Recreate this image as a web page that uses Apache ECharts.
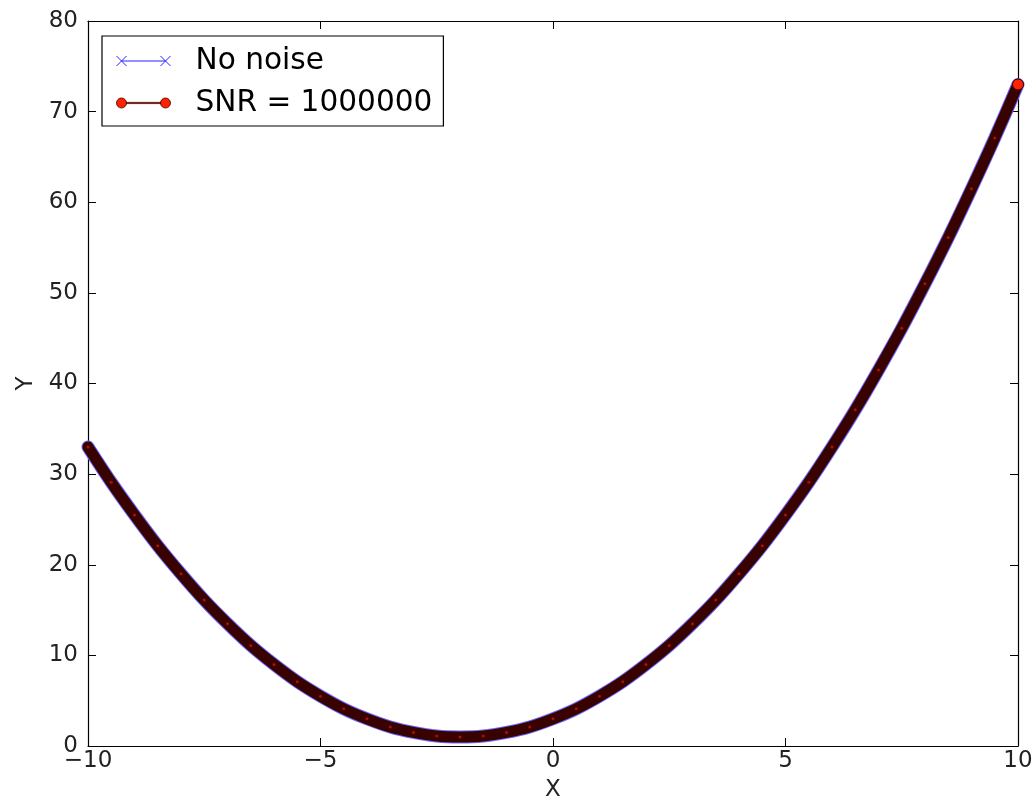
<!DOCTYPE html>
<html>
<head>
<meta charset="utf-8">
<script src="https://cdn.jsdelivr.net/npm/echarts@6/dist/echarts.min.js"></script>
<style>
	html, body { margin: 0; padding: 0; background: #fff; }
	#myChart { width: 1036px; height: 801px; }
</style>
</head>
<body>
<div id="myChart"></div>
<script>
// x positions of the plotted samples
const xValues = [
	-10, -9.5, -9, -8.5, -8, -7.5, -7, -6.5, -6, -5.5, -5, -4.5, -4, -3.5, -3, -2.5, -2,
	-1.5, -1, -0.5, 0, 0.5, 1, 1.5, 2, 2.5, 3, 3.5, 4, 4.5, 5, 5.5, 6, 6.5, 7, 7.5, 8,
	8.5, 9, 9.5, 10,
];
// "No noise" curve
const yNoNoise = [
	33, 29.1, 25.5, 22.1, 19, 16.1, 13.5, 11.1, 9, 7.1, 5.5, 4.1, 3, 2.1, 1.5, 1.1, 1,
	1.1, 1.5, 2.1, 3, 4.1, 5.5, 7.1, 9, 11.1, 13.5, 16.1, 19, 22.1, 25.5, 29.1, 33, 37.1, 41.5, 46.1, 51,
	56.1, 61.5, 67.1, 73,
];
// "SNR = 1000000" curve (noise too small to see)
const ySnr = [
	33, 29.1, 25.5, 22.1, 19, 16.1, 13.5, 11.1, 9, 7.1, 5.5, 4.1, 3, 2.1, 1.5, 1.1, 1,
	1.1, 1.5, 2.1, 3, 4.1, 5.5, 7.1, 9, 11.1, 13.5, 16.1, 19, 22.1, 25.5, 29.1, 33, 37.1, 41.5, 46.1, 51,
	56.1, 61.5, 67.1, 73,
];
const seriesNames = ["No noise", "SNR = 1000000"];

const font = "DejaVu Sans";
const minus = (v) => String(v).replace("-", "\u2212");

const cleanData = xValues.map((x, i) => [x, yNoNoise[i]]);
const snrData = xValues.map((x, i) => {
	const item = { value: [x, ySnr[i]] };
	if (i === xValues.length - 1) {
		// last marker is drawn on top, fully visible
		item.symbolSize = 11;
		item.itemStyle = { color: "#ff2200", borderColor: "#3a0000", borderWidth: 1 };
	}
	return item;
});

const axisCommon = {
	axisLine: { show: true, onZero: false, lineStyle: { color: "#000", width: 1.2 } },
	axisTick: { show: true, inside: true, length: 8, lineStyle: { color: "#000" } },
	splitLine: { show: false },
};

let myChart = echarts.init(document.getElementById("myChart"));
myChart.setOption({
	backgroundColor: "#fff",
	animation: false,
	grid: { left: 88, right: 18, top: 21, bottom: 55, outerBoundsMode: "none" },
	legend: {
		orient: "vertical",
		left: 102,
		top: 36,
		padding: [8, 11, 6, 14],
		borderColor: "#000",
		borderWidth: 1.2,
		backgroundColor: "#fff",
		itemWidth: 54,
		itemHeight: 10,
		itemGap: 8,
		textStyle: { fontFamily: font, fontSize: 29.6, color: "#000", lineHeight: 34, padding: [0, 0, 0, 20] },
		data: [
			{
				name: seriesNames[0],
				icon: "path://M0,0L10,10M0,10L10,0M5,5L49,5M44,0L54,10M44,10L54,0",
				itemStyle: { color: "rgba(0,0,0,0)", borderColor: "#2222ff", borderWidth: 1 },
			},
			{
				name: seriesNames[1],
				icon: "path://M0,5A5,5,0,1,0,10,5A5,5,0,1,0,0,5ZM44,5A5,5,0,1,0,54,5A5,5,0,1,0,44,5ZM10,4.4L44,4.4L44,5.6L10,5.6Z",
				itemStyle: { color: "#ff2200", borderColor: "#400000", borderWidth: 0.8 },
			},
		],
	},
	xAxis: [
		{
			...axisCommon,
			type: "value",
			min: -10,
			max: 10,
			interval: 5,
			name: "X",
			nameLocation: "middle",
			nameGap: 33,
			nameTextStyle: { fontFamily: font, fontSize: 23, color: "#222" },
			axisLabel: { fontFamily: font, fontSize: 23, color: "#222", margin: 4, formatter: minus },
		},
		{
			...axisCommon,
			type: "value",
			position: "top",
			min: -10,
			max: 10,
			interval: 5,
			axisLabel: { show: false },
		},
	],
	yAxis: [
		{
			...axisCommon,
			type: "value",
			min: 0,
			max: 80,
			interval: 10,
			name: "Y",
			nameLocation: "middle",
			nameGap: 43,
			nameTextStyle: { fontFamily: font, fontSize: 23, color: "#222" },
			axisLabel: { fontFamily: font, fontSize: 23, color: "#222", margin: 10 },
		},
		{
			...axisCommon,
			type: "value",
			position: "right",
			min: 0,
			max: 80,
			interval: 10,
			axisLabel: { show: false },
		},
	],
	series: [
		{
			name: seriesNames[0],
			type: "line",
			data: cleanData,
			smooth: 0.3,
			showSymbol: false,
			symbol: "none",
			lineStyle: { color: "#6a6aff", width: 13, cap: "round" },
			itemStyle: { color: "#2222ff" },
		},
		{
			name: seriesNames[1],
			type: "line",
			data: snrData,
			smooth: 0.3,
			symbol: "circle",
			symbolSize: 3,
			lineStyle: { color: "#380200", width: 11, cap: "round" },
			itemStyle: { color: "#b01000", borderWidth: 0 },
		},
	],
});
</script>
</body>
</html>
